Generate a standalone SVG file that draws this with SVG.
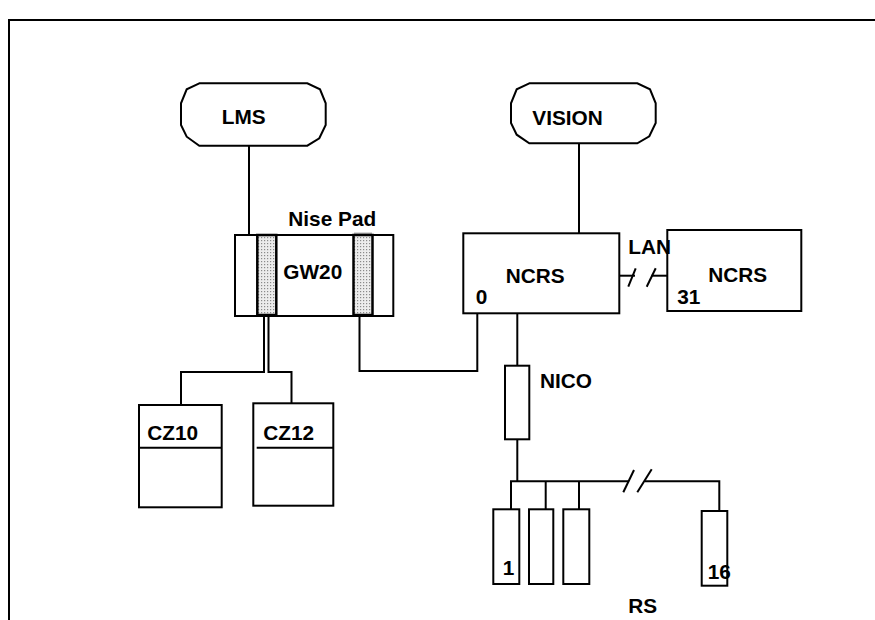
<svg xmlns="http://www.w3.org/2000/svg" width="875" height="620" viewBox="0 0 875 620">
<defs>
<pattern id="dots" width="3" height="3" patternUnits="userSpaceOnUse">
<rect width="3" height="3" fill="#ececec"/>
<rect x="0" y="0" width="1.2" height="1.2" fill="#8a8a8a"/>
</pattern>
</defs>
<style>
.ln{fill:none;stroke:#000;stroke-width:2}
.bx{fill:#fff;stroke:#000;stroke-width:2}
.t{font-family:"Liberation Sans",Arial,sans-serif;font-weight:bold;font-size:20.8px;fill:#000}
.strip{fill:url(#dots);stroke:#000;stroke-width:2.5}
</style>
<rect width="875" height="620" fill="#fff"/>
<path class="ln" d="M9,620 V20 H875" stroke-width="2"/>

<g id="connectors">
<path class="ln" d="M249,146 V235"/>
<path class="ln" d="M579,143 V233"/>
<path class="ln" d="M264,316 V372 H181 V405"/>
<path class="ln" d="M268.5,316 V372 H291.5 V403"/>
<path class="ln" d="M359.5,316 V371 H477.3 V313"/>
<path class="ln" d="M517.3,313 V366"/>
<path class="ln" d="M517.3,439 V481.3"/>
<path class="ln" d="M511,509 V481.3 H628"/>
<path class="ln" d="M645,481.3 H719.3 V511"/>
<path class="ln" d="M545.7,481.3 V509"/>
<path class="ln" d="M579,481.3 V509"/>
<path class="ln" d="M623.3,492.3 L634,470"/>
<path class="ln" d="M637.3,492.3 L651.7,469.3"/>
<path class="ln" d="M619.3,275.7 H635"/>
<path class="ln" d="M651.7,275.7 H667.3"/>
<path class="ln" d="M628.3,286.7 L635.7,268.3"/>
<path class="ln" d="M646.7,286.7 L655.7,268.3"/>
</g>

<g id="lms">
<path class="bx" d="M199.3,83.3 L186.7,89.3 L181,103.3 V125 L186.7,136.7 L199.3,145.7 H307.3 L319.3,138.3 L325.7,125 V103.3 L320,89.3 L307.3,83.3 Z"/>
<text class="t" x="221.7" y="124">LMS</text>
</g>

<g id="vision">
<path class="bx" d="M529.3,83.3 L516.7,89.3 L511,103.3 V123 L516.7,134.7 L529.3,143.3 H637.3 L649.3,136.3 L655.7,123 V103.3 L650,89.3 L637.3,83.3 Z"/>
<text class="t" x="532.3" y="125">VISION</text>
</g>

<g id="gw20">
<rect class="bx" x="235" y="235" width="158.3" height="81"/>
<rect class="strip" x="257.3" y="235" width="19" height="80"/>
<rect x="354" y="232.5" width="18" height="3" fill="#b0b0b0"/>
<rect class="strip" x="353.5" y="235" width="19" height="80"/>
<text class="t" x="283.3" y="279">GW20</text>
<text class="t" x="288.3" y="226">Nise Pad</text>
</g>

<g id="ncrs0">
<rect class="bx" x="463.3" y="233.3" width="156" height="80"/>
<text class="t" x="505.7" y="283.3">NCRS</text>
<text class="t" x="475.7" y="304">0</text>
</g>

<g id="ncrs31">
<rect class="bx" x="667.3" y="230" width="134" height="81"/>
<text class="t" x="708.3" y="282.3">NCRS</text>
<text class="t" x="677.3" y="304">31</text>
</g>

<text id="lan" class="t" x="628.3" y="254">LAN</text>

<g id="cz10">
<rect class="bx" x="139" y="405" width="82.7" height="102.3"/>
<path class="ln" d="M139,447.7 H221.7"/>
<text class="t" x="147.3" y="440">CZ10</text>
</g>

<g id="cz12">
<rect class="bx" x="253.3" y="403.3" width="80" height="102.4"/>
<path class="ln" d="M256.7,447.7 H333.3"/>
<text class="t" x="263.3" y="440">CZ12</text>
</g>

<g id="nico">
<rect class="bx" x="505" y="365.7" width="24.3" height="73.6"/>
<text class="t" x="540" y="387.7">NICO</text>
</g>

<g id="rs1">
<rect class="bx" x="493.3" y="509.3" width="26" height="74.7"/>
<text class="t" x="502.7" y="575">1</text>
</g>
<g id="rs2">
<rect class="bx" x="529" y="509.3" width="24.3" height="74.7"/>
</g>
<g id="rs3">
<rect class="bx" x="563.3" y="509.3" width="26" height="74.7"/>
</g>
<g id="rs16">
<rect class="bx" x="701.7" y="511" width="25.6" height="74.7"/>
<text class="t" x="707.7" y="579.3">16</text>
</g>
<text id="rs" class="t" x="628.3" y="613.3">RS</text>
</svg>
